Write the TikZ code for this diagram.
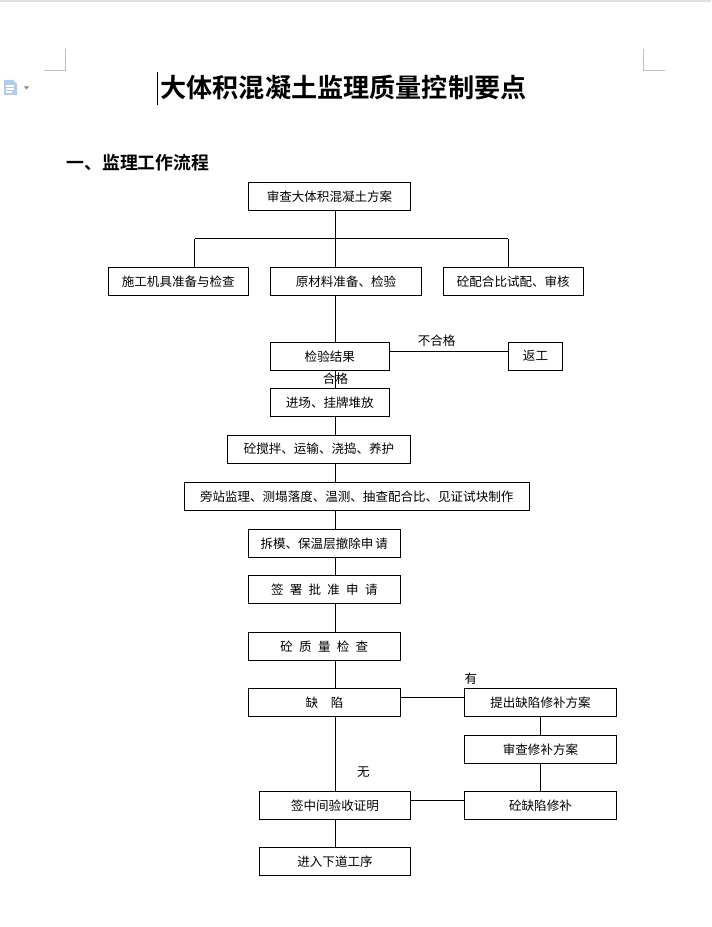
\documentclass[tikz,border=0pt]{standalone}
\usepackage{fontspec}
\newfontfamily\cjk{Noto Sans CJK SC}
\newfontfamily\cjkbold{Noto Sans CJK SC Bold}
\usetikzlibrary{positioning}
\definecolor{markgray}{RGB}{190,190,190}
\definecolor{iconblue}{RGB}{178,203,235}
\tikzstyle{box}=[draw,rectangle,line width=0.6pt,inner sep=0pt,
                 minimum height=21pt,font=\cjk\fontsize{9.4}{11}\selectfont]
\tikzstyle{lbl}=[inner sep=0pt,font=\cjk\fontsize{9.4}{11}\selectfont]

\begin{document}
\begin{tikzpicture}[x=0.75pt,y=-0.75pt,line width=0.6pt]
  \useasboundingbox (0,0) rectangle (711,927);
  % page frame
  \fill[gray!25] (0,0) rectangle (711,2.5);
  \draw[markgray] (65.5,49) -- (65.5,70.5) -- (44,70.5);
  \draw[markgray] (643.5,49) -- (643.5,70.5) -- (665,70.5);
  \fill[iconblue] (4,80) -- (13,80) -- (17,84) -- (17,95) -- (4,95) -- cycle;
  \draw[white,line width=0.8pt] (6,86) -- (14,86) (6,89) -- (14,89) (6,92) -- (12,92);
  \fill[gray] (24,86.5) -- (29,86.5) -- (26.5,89.5) -- cycle;
  \draw[line width=0.7pt] (157,72) -- (157,105);

  \node[font=\cjkbold\fontsize{19.6}{22}\selectfont,inner sep=0pt] (title) at (343.5,88) {大体积混凝土监理质量控制要点};
  \node[font=\cjkbold\fontsize{13.4}{15}\selectfont,inner sep=0pt,anchor=west] (head) at (66,163) {一、监理工作流程};

  \node[box,minimum width=121.8pt] (plan) at (329.5,196.5) {审查大体积混凝土方案};
  \node[box,minimum width=105pt] (tools) at (178.3,281.5) {施工机具准备与检查};
  \node[box,minimum width=113.6pt] (mat) at (346,281.5) {原材料准备、检验};
  \node[box,minimum width=105pt] (mix) at (513.3,281.5) {砼配合比试配、审核};
  \node[box,minimum width=89.3pt] (result) at (329.8,356.2) {检验结果};
  \node[box,minimum width=40.8pt] (rework) at (535.5,356.2) {返工};
  \node[box,minimum width=89.3pt] (entry) at (329.8,402.5) {进场、挂牌堆放};
  \node[box,minimum width=137.6pt] (pour) at (319,449.2) {砼搅拌、运输、浇捣、养护};
  \node[box,minimum width=259pt] (watch) at (356.7,496.3) {旁站监理、测塌落度、温测、抽查配合比、见证试块制作};
  \node[box,minimum width=114pt] (strip) at (324.3,543.3) {拆模、保温层撤除申\,请};
  \node[box,minimum width=114pt] (sign) at (324.3,589.7) {签\enspace 署\enspace 批\enspace 准\enspace 申\enspace 请};
  \node[box,minimum width=114pt] (check) at (324.3,646.3) {砼\enspace 质\enspace 量\enspace 检\enspace 查};
  \node[box,minimum width=114.3pt] (defect) at (324.5,702.3) {缺　陷};
  \node[box,minimum width=114.3pt] (propose) at (540.5,702.3) {提出缺陷修补方案};
  \node[box,minimum width=114.3pt] (review) at (540.5,749.5) {审查修补方案};
  \node[box,minimum width=114.3pt] (repair) at (540.5,805.3) {砼缺陷修补};
  \node[box,minimum width=113.6pt] (accept) at (335,805.3) {签中间验收证明};
  \node[box,minimum width=113.6pt] (next) at (335,861.3) {进入下道工序};

  \coordinate (sp) at (335.7,0);
  \coordinate (dl) at (194.7,238.7);
  \coordinate (dr) at (508.3,238.7);
  \coordinate (rw) at (0,351.7);
  \coordinate (dy) at (0,697);
  \coordinate (ry) at (0,800);

  \draw (plan.south -| sp) -- (mat.north -| sp);
  \draw (dl) -- (dr);
  \draw (dl) -- (dl |- tools.north);
  \draw (dr) -- (dr |- mix.north);
  \draw (mat.south -| sp) -- (result.north -| sp);
  \draw (result.east |- rw) -- (rework.west |- rw);
  \draw (result.south -| sp) -- (entry.north -| sp);
  \draw (entry.south -| sp) -- (pour.north -| sp);
  \draw (pour.south -| sp) -- (watch.north -| sp);
  \draw (watch.south -| sp) -- (strip.north -| sp);
  \draw (strip.south -| sp) -- (sign.north -| sp);
  \draw (sign.south -| sp) -- (check.north -| sp);
  \draw (check.south -| sp) -- (defect.north -| sp);
  \draw (defect.east |- dy) -- (propose.west |- dy);
  \draw (propose) -- (review);
  \draw (review) -- (repair);
  \draw (repair.west |- ry) -- (accept.east |- ry);
  \draw (defect.south -| sp) -- (accept.north -| sp);
  \draw (accept.south -| sp) -- (next.north -| sp);

  \node[lbl] (fail) at (436.7,341) {不合格};
  \node[lbl] (pass) at (335.5,378.5) {合格};
  \node[lbl] (yes) at (471,678.5) {有};
  \node[lbl] (no) at (363.5,772.5) {无};
\end{tikzpicture}
\end{document}
